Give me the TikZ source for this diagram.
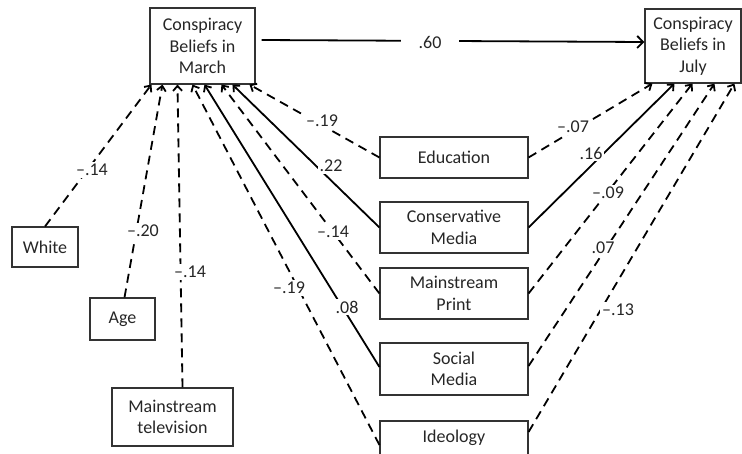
\documentclass[tikz,border=0pt]{standalone}
\usepackage{fontspec}
\setmainfont{Carlito}
\usetikzlibrary{arrows.meta}
\begin{document}
\begin{tikzpicture}[x=1pt,y=-1pt,
 box/.style={draw=black!80,line width=1.1pt,align=center,inner sep=0pt,
   font=\fontsize{18}{21.5}\selectfont,text=black!85},
 lab/.style={fill=white,inner sep=2pt,font=\fontsize{18}{20}\selectfont,text=black!85},
 conn/.style={line width=1.8pt,-{Straight Barb[length=5pt,width=9pt]}},
 dsh/.style={conn,dash pattern=on 9pt off 6pt}]
\useasboundingbox (0,0) rectangle (742,453);
% boxes
\node[box,minimum width=105pt,minimum height=76pt] (march) at (202.5,46) {Conspiracy\\Beliefs in\\March};
\node[box,minimum width=96pt,minimum height=74pt] (july) at (693,46) {Conspiracy\\Beliefs in\\July};
\node[box,minimum width=148pt,minimum height=41pt] (edu) at (454,157.5) {Education};
\node[box,minimum width=148pt,minimum height=51pt] (cons) at (454,227.5) {Conservative\\Media};
\node[box,minimum width=148pt,minimum height=51pt] (print) at (454,293.5) {Mainstream\\Print};
\node[box,minimum width=148pt,minimum height=52pt] (social) at (454,369) {Social\\Media};
\node[box,minimum width=148pt,minimum height=52pt] (ideo) at (454,447) {Ideology\\\phantom{M}};
\node[box,minimum width=66pt,minimum height=40pt] (white) at (45,247) {White};
\node[box,minimum width=65pt,minimum height=42pt] (age) at (122.5,319) {Age};
\node[box,minimum width=121pt,minimum height=58pt] (mtv) at (172.5,417) {Mainstream\\television};
% connectors into March
\draw[dsh] (white.north) -- ([xshift=2pt]march.south west);
\draw[dsh] ([xshift=2pt]age.north) -- ([xshift=13pt]march.south west);
\draw[dsh] ([xshift=10pt]mtv.north) -- ([xshift=28pt]march.south west);
\draw[dsh] ([yshift=2pt]ideo.west) -- ([xshift=43pt]march.south west);
\draw[conn] ([yshift=2pt]social.west) -- ([xshift=55pt]march.south west);
\draw[dsh] (print.west) -- ([xshift=72pt]march.south west);
\draw[conn] (cons.west) -- ([xshift=83pt]march.south west);
\draw[dsh] (edu.west) -- ([xshift=100pt]march.south west);
% connectors into July
\draw[dsh] (edu.east) -- ([xshift=8pt]july.south west);
\draw[conn] (cons.east) -- ([xshift=30pt]july.south west);
\draw[dsh] (print.east) -- ([xshift=48pt]july.south west);
\draw[dsh] ([yshift=3pt]social.east) -- ([xshift=70pt]july.south west);
\draw[dsh] ([yshift=15pt]ideo.east) -- ([xshift=90pt]july.south west);
% March -> July
\draw[conn,-{Straight Barb[length=6pt,width=12pt]}] ([xshift=6pt,yshift=6pt]march.east) -- ([yshift=4pt]july.west);
% labels
\node[lab,inner xsep=18pt] (l60) at (430,42) {.60};
\node[lab] (lwhite) at (92,170) {--.14};
\node[lab] (lage) at (143,231) {--.20};
\node[lab] (lmtv) at (190,272) {--.14};
\node[lab] (lideo) at (289,288) {--.19};
\node[lab] (lsoc) at (347,307) {.08};
\node[lab] (lprint) at (333,232) {--.14};
\node[lab] (lcons) at (331,166) {.22};
\node[lab] (ledu) at (322,121) {--.19};
\node[lab] (jedu) at (573,127) {--.07};
\node[lab] (jcons) at (591,153) {.16};
\node[lab] (jprint) at (608,193) {--.09};
\node[lab] (jsoc) at (603,248) {.07};
\node[lab] (jideo) at (618,310) {--.13};
\end{tikzpicture}
\end{document}
